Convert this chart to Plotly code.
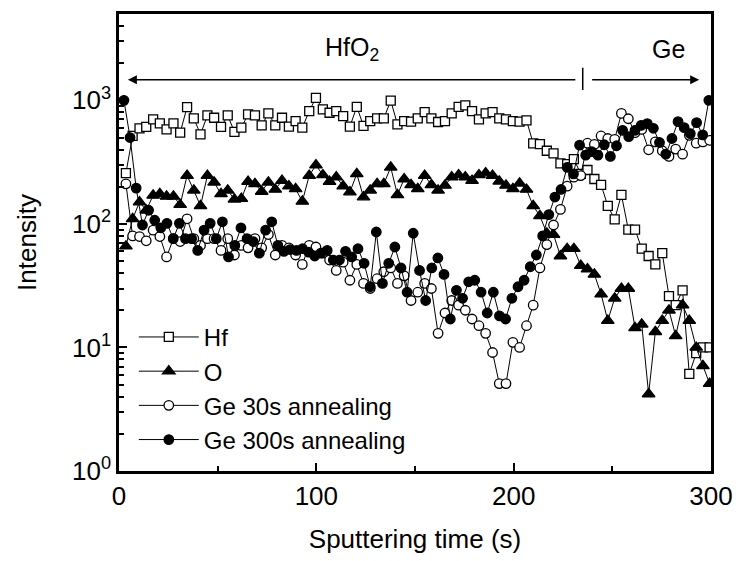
import plotly.graph_objects as go
import math

# ---- data ----
t_main = [3.5, 6.9, 10.4, 13.8, 17.3, 20.7, 24.1, 27.6, 31.0, 34.5,
          37.9, 41.3, 44.8, 48.2, 51.7, 55.1, 58.5, 62.0, 65.4, 68.9,
          72.3, 75.7, 79.2, 82.6, 86.1, 89.5, 92.9, 96.4, 99.8, 103.3,
          106.7, 110.1, 113.6, 117.0, 120.5, 123.9, 127.3, 130.8, 134.2, 137.7,
          141.1, 144.5, 148.0, 151.4, 154.9, 158.3, 161.7, 165.2, 168.6, 172.1,
          175.5, 178.9, 182.4, 185.8, 189.3, 192.7, 196.1, 199.6, 203.0, 206.5,
          209.9, 213.3, 216.8, 220.2, 223.7, 227.1, 230.5, 234.0, 237.4, 240.9,
          244.3, 247.7, 251.2, 254.6, 258.1, 261.5, 264.9, 268.4, 271.8, 275.3,
          278.7, 282.1, 285.6, 289.0, 292.5, 295.9, 299.3]

hf = [258, 515, 594, 609, 701, 651, 582, 651, 548, 881,
      714, 531, 755, 723, 609, 755, 555, 601, 769, 755,
      628, 784, 628, 723, 613, 680, 601, 819, 1047, 844,
      794, 819, 746, 613, 887, 621, 680, 714, 714, 996,
      640, 680, 672, 714, 804, 714, 668, 680, 784, 887,
      910, 819, 701, 784, 804, 714, 701, 680, 672, 689,
      448, 442, 391, 372, 309, 305, 335, 254, 273, 231,
      207, 140, 109, 172, 90, 90, 63, 55, 47, 58,
      26, 22, 29, 6.1, 9.0, 10, 10]

oxy = [66, 110, 150, 129, 170, 175, 167, 167, 143, 246,
       187, 140, 246, 217, 175, 187, 158, 160, 220, 211,
       183, 217, 190, 224, 202, 192, 152, 246, 299, 249,
       220, 239, 202, 181, 254, 165, 187, 211, 211, 287,
       172, 231, 207, 192, 246, 207, 187, 205, 239, 249,
       239, 224, 249, 258, 246, 221, 205, 192, 213, 190,
       140, 116, 84, 82, 55, 63, 63, 46, 43, 39,
       27, 16.5, 25, 30, 30, 14.4, 15.4, 4.2, 13.4, 16.5,
       20, 12.4, 22, 16.5, 10, 7.1, 5.1]

ge30 = [211, 80, 79, 73, 89, 79, 54, 76, 72, 110,
        76, 67, 76, 76, 61, 76, 56, 67, 64, 76,
        64, 82, 56, 67, 64, 56, 47, 67, 65, 58,
        51, 42, 49, 35, 47, 33, 30, 36, 41, 44,
        33, 38, 24, 28, 33, 30, 13, 19, 24, 22,
        20, 17, 15, 13, 9.1, 5.1, 5.1, 11, 10, 15,
        22, 44, 68, 98, 131, 202, 239, 246, 450, 440,
        515, 491, 484, 784, 710, 548, 582, 398, 461, 391,
        352, 403, 367, 521, 450, 461, 475]

t_ge300 = [2.5, 5.6, 8.7, 11.9, 15.0, 18.1, 21.2, 24.3, 27.5, 30.6,
           33.7, 36.8, 39.9, 43.1, 46.2, 49.3, 52.4, 55.5, 58.7, 61.8,
           64.9, 68.0, 71.1, 74.3, 77.4, 80.5, 83.6, 86.7, 89.9, 93.0,
           96.1, 99.2, 102.3, 105.5, 108.6, 111.7, 114.8, 117.9, 121.1, 124.2,
           127.3, 130.4, 133.5, 136.7, 139.8, 142.9, 146.0, 149.1, 152.3, 155.4,
           158.5, 161.6, 164.7, 167.9, 171.0, 174.1, 177.2, 180.3, 183.5, 186.6,
           189.7, 192.8, 195.9, 199.1, 202.2, 205.3, 208.4, 211.5, 214.7, 217.8,
           220.9, 224.0, 227.1, 230.3, 233.4, 236.5, 239.6, 242.7, 245.9, 249.0,
           252.1, 255.2, 258.3, 261.5, 264.6, 267.7, 270.8, 273.9, 277.1, 280.2,
           283.3, 286.4, 289.5, 292.7, 295.8, 298.9]

ge300 = [1000, 500, 195, 98, 129, 107, 93, 101, 76, 101,
         76, 76, 61, 89, 101, 76, 104, 54, 67, 93,
         76, 72, 58, 89, 104, 67, 60, 62, 61, 63,
         59, 55, 58, 61, 51, 51, 60, 54, 63, 48,
         31, 86, 33, 48, 65, 44, 28, 84, 42, 24,
         44, 53, 39, 17, 29, 25, 34, 35, 28, 19,
         28, 18, 17, 25, 31, 35, 45, 56, 80, 119,
         165, 190, 287, 254, 434, 360, 384, 360, 437, 352,
         429, 572, 509, 572, 628, 648, 594, 456, 367, 491,
         672, 601, 538, 660, 525, 1000]

series_names = ["Hf", "O", "Ge 30s annealing", "Ge 300s annealing"]
x_ticks = [0, 100, 200, 300]
y_ticks = [1, 10, 100, 1000]
y_ticktext = ["10<sup>0</sup>", "10<sup>1</sup>", "10<sup>2</sup>", "10<sup>3</sup>"]

FONT = "Liberation Sans, Arial, sans-serif"

fig = go.Figure()

def add(x, y, name, symbol, fill, size):
    fig.add_trace(go.Scatter(
        x=x, y=y, name=name, mode="lines+markers",
        line=dict(color="black", width=1),
        marker=dict(symbol=symbol, size=size, color=fill,
                    line=dict(color="black", width=1.3)),
    ))

add(t_main, hf, series_names[0], "square", "white", 9)
add(t_main, oxy, series_names[1], "triangle-up", "black", 11)
add(t_main, ge30, series_names[2], "circle", "white", 9.5)
add(t_ge300, ge300, series_names[3], "circle", "black", 9.5)

# region annotations
y_arrow = math.log10(1470)
arrow_common = dict(xref="x", yref="y", axref="x", ayref="y", text="",
                    showarrow=True, arrowhead=2, arrowsize=1.2,
                    arrowwidth=1.5, arrowcolor="black")
fig.add_annotation(x=4.5, y=y_arrow, ax=232, ay=y_arrow, **arrow_common)
fig.add_annotation(x=294, y=y_arrow, ax=239, ay=y_arrow, **arrow_common)
fig.add_annotation(x=235, y=math.log10(1214), ax=235, ay=math.log10(1892),
                   xref="x", yref="y", axref="x", ayref="y", text="",
                   showarrow=True, arrowhead=0, arrowwidth=1.5, arrowcolor="black")
fig.add_annotation(x=118, y=math.log10(2600), text="HfO<sub>2</sub>",
                   showarrow=False, xref="x", yref="y",
                   font=dict(size=25, color="black", family=FONT))
fig.add_annotation(x=278.5, y=math.log10(2600), text="Ge",
                   showarrow=False, xref="x", yref="y",
                   font=dict(size=25, color="black", family=FONT))

fig.update_layout(
    width=744, height=561,
    margin=dict(l=119, r=26, t=11, b=90),
    paper_bgcolor="white", plot_bgcolor="white",
    font=dict(family=FONT, size=25, color="black"),
    showlegend=True,
    legend=dict(x=0.025, y=0.02, xanchor="left", yanchor="bottom",
                bgcolor="rgba(0,0,0,0)", font=dict(size=24, family=FONT),
                itemwidth=60, tracegroupgap=0),
    xaxis=dict(
        range=[0, 300], tickvals=x_ticks, ticks="inside", ticklen=8, tickwidth=2,
        tickcolor="black", showline=True, linewidth=2.5, linecolor="black",
        mirror=True, showgrid=False, zeroline=False,
        tickfont=dict(size=26, family=FONT),
        minor=dict(ticks="inside", ticklen=5, tickwidth=2, tickcolor="black", dtick=50),
        title=dict(text="Sputtering time (s)", font=dict(size=26, family=FONT), standoff=20),
    ),
    yaxis=dict(
        type="log", range=[0, math.log10(5000)], tickvals=y_ticks, ticktext=y_ticktext,
        ticks="inside", ticklen=8, tickwidth=2, tickcolor="black",
        showline=True, linewidth=2.5, linecolor="black", mirror=True,
        showgrid=False, zeroline=False,
        tickfont=dict(size=26, family=FONT),
        minor=dict(ticks="inside", ticklen=5, tickwidth=2, tickcolor="black", dtick="D1"),
        title=dict(text="Intensity", font=dict(size=26, family=FONT), standoff=28),
    ),
)

fig.write_html("out.html")
